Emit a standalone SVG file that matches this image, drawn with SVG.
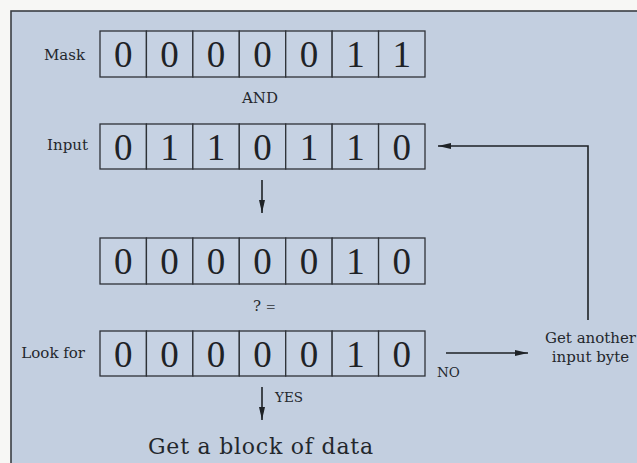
<svg xmlns="http://www.w3.org/2000/svg" width="637" height="463" viewBox="0 0 637 463">
<defs>
<style>
.cell{fill:#c6d2e3;stroke:#2e3238;stroke-width:1.3}
.dig{font-family:"Liberation Serif",serif;font-size:37px;fill:#1e2226;text-anchor:middle}
.lbl{font-family:"DejaVu Serif",serif;font-size:15px;fill:#23272c}
.sm{font-family:"DejaVu Serif",serif;font-size:13.5px;fill:#23272c}
.big{font-family:"DejaVu Serif",serif;font-size:22px;fill:#23272c}
.ln{fill:none;stroke:#1e2226;stroke-width:1.6}
</style>
<marker id="ah" markerUnits="userSpaceOnUse" markerWidth="14" markerHeight="8" refX="13" refY="4" orient="auto">
<path d="M0,1 L13,4 L0,7 Z" fill="#1e2226"/>
</marker>
<pattern id="row" width="46.43" height="46" patternUnits="userSpaceOnUse"/>
</defs>
<rect x="0" y="0" width="637" height="463" fill="#f7f7f5"/>
<rect x="11" y="11" width="640" height="470" fill="#c3cfe0" stroke="#3a3e44" stroke-width="1.6"/>

<g id="mask">
<text class="lbl" x="85" y="60" text-anchor="end">Mask</text>
<rect class="cell" x="100" y="31" width="46.43" height="46"/>
<rect class="cell" x="146.43" y="31" width="46.43" height="46"/>
<rect class="cell" x="192.86" y="31" width="46.43" height="46"/>
<rect class="cell" x="239.29" y="31" width="46.43" height="46"/>
<rect class="cell" x="285.71" y="31" width="46.43" height="46"/>
<rect class="cell" x="332.14" y="31" width="46.43" height="46"/>
<rect class="cell" x="378.57" y="31" width="46.43" height="46"/>
<text class="dig" y="67"><tspan x="123.2">0</tspan><tspan x="169.6">0</tspan><tspan x="216.1">0</tspan><tspan x="262.5">0</tspan><tspan x="308.9">0</tspan><tspan x="355.4">1</tspan><tspan x="401.8">1</tspan></text>
</g>

<g id="input">
<text class="lbl" x="88" y="150" text-anchor="end">Input</text>
<rect class="cell" x="100" y="124" width="46.43" height="45"/>
<rect class="cell" x="146.43" y="124" width="46.43" height="45"/>
<rect class="cell" x="192.86" y="124" width="46.43" height="45"/>
<rect class="cell" x="239.29" y="124" width="46.43" height="45"/>
<rect class="cell" x="285.71" y="124" width="46.43" height="45"/>
<rect class="cell" x="332.14" y="124" width="46.43" height="45"/>
<rect class="cell" x="378.57" y="124" width="46.43" height="45"/>
<text class="dig" y="160"><tspan x="123.2">0</tspan><tspan x="169.6">1</tspan><tspan x="216.1">1</tspan><tspan x="262.5">0</tspan><tspan x="308.9">1</tspan><tspan x="355.4">1</tspan><tspan x="401.8">0</tspan></text>
</g>

<g id="result">
<rect class="cell" x="100" y="238" width="46.43" height="46"/>
<rect class="cell" x="146.43" y="238" width="46.43" height="46"/>
<rect class="cell" x="192.86" y="238" width="46.43" height="46"/>
<rect class="cell" x="239.29" y="238" width="46.43" height="46"/>
<rect class="cell" x="285.71" y="238" width="46.43" height="46"/>
<rect class="cell" x="332.14" y="238" width="46.43" height="46"/>
<rect class="cell" x="378.57" y="238" width="46.43" height="46"/>
<text class="dig" y="274"><tspan x="123.2">0</tspan><tspan x="169.6">0</tspan><tspan x="216.1">0</tspan><tspan x="262.5">0</tspan><tspan x="308.9">0</tspan><tspan x="355.4">1</tspan><tspan x="401.8">0</tspan></text>
</g>

<g id="lookfor">
<text class="lbl" x="85" y="358" text-anchor="end">Look for</text>
<rect class="cell" x="100" y="331" width="46.43" height="45"/>
<rect class="cell" x="146.43" y="331" width="46.43" height="45"/>
<rect class="cell" x="192.86" y="331" width="46.43" height="45"/>
<rect class="cell" x="239.29" y="331" width="46.43" height="45"/>
<rect class="cell" x="285.71" y="331" width="46.43" height="45"/>
<rect class="cell" x="332.14" y="331" width="46.43" height="45"/>
<rect class="cell" x="378.57" y="331" width="46.43" height="45"/>
<text class="dig" y="367"><tspan x="123.2">0</tspan><tspan x="169.6">0</tspan><tspan x="216.1">0</tspan><tspan x="262.5">0</tspan><tspan x="308.9">0</tspan><tspan x="355.4">1</tspan><tspan x="401.8">0</tspan></text>
</g>

<g id="another">
<text class="lbl" x="590.5" y="343" text-anchor="middle">Get another</text>
<text class="lbl" x="590.5" y="362" text-anchor="middle">input byte</text>
</g>

<g id="block">
<text class="big" x="260.5" y="454" text-anchor="middle" textLength="225">Get a block of data</text>
</g>

<g id="connectors">
<text class="lbl" x="260" y="103" text-anchor="middle">AND</text>
<line class="ln" x1="262" y1="180" x2="262" y2="213" marker-end="url(#ah)"/>
<text class="lbl" x="253" y="311">? <tspan font-size="12" fill="#4a4f56">=</tspan></text>
<line class="ln" x1="262" y1="387" x2="262" y2="420" marker-end="url(#ah)"/>
<text class="sm" x="275" y="402">YES</text>
<line class="ln" x1="446" y1="353" x2="528" y2="353" marker-end="url(#ah)"/>
<text class="sm" x="437" y="377">NO</text>
<polyline class="ln" points="588,320 588,146 438,146" stroke-width="1.9" marker-end="url(#ah)"/>
</g>
</svg>
